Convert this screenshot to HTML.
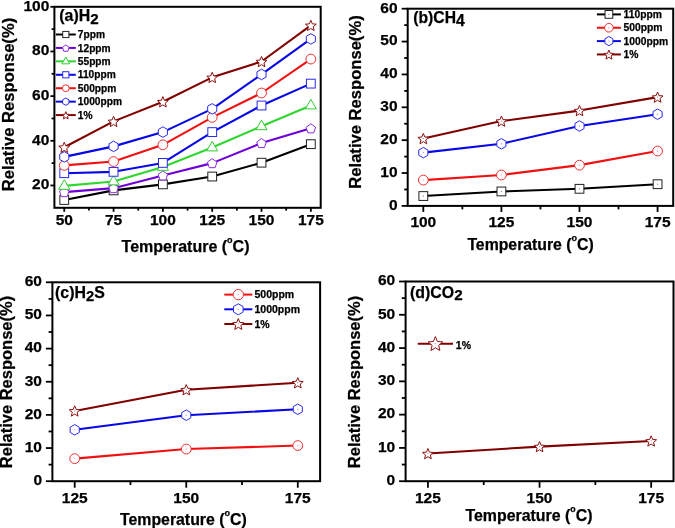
<!DOCTYPE html>
<html><head><meta charset="utf-8"><style>
html,body{margin:0;padding:0;background:#fff;}
svg{display:block;will-change:transform;}
text{font-family:"Liberation Sans", sans-serif;font-weight:bold;fill:#000;stroke:#000;stroke-width:0.25px;}
</style></head><body>
<svg width="675" height="528" viewBox="0 0 675 528">
<rect width="675" height="528" fill="#fff"/>
<line x1="64.26" y1="207.8" x2="64.26" y2="211.8" stroke="#000" stroke-width="1.8"/>
<text x="64.26" y="224.9" font-size="15.5" text-anchor="middle" >50</text>
<line x1="113.58" y1="207.8" x2="113.58" y2="211.8" stroke="#000" stroke-width="1.8"/>
<text x="113.58" y="224.9" font-size="15.5" text-anchor="middle" >75</text>
<line x1="162.89" y1="207.8" x2="162.89" y2="211.8" stroke="#000" stroke-width="1.8"/>
<text x="162.89" y="224.9" font-size="15.5" text-anchor="middle" >100</text>
<line x1="212.21" y1="207.8" x2="212.21" y2="211.8" stroke="#000" stroke-width="1.8"/>
<text x="212.21" y="224.9" font-size="15.5" text-anchor="middle" >125</text>
<line x1="261.52" y1="207.8" x2="261.52" y2="211.8" stroke="#000" stroke-width="1.8"/>
<text x="261.52" y="224.9" font-size="15.5" text-anchor="middle" >150</text>
<line x1="310.84" y1="207.8" x2="310.84" y2="211.8" stroke="#000" stroke-width="1.8"/>
<text x="310.84" y="224.9" font-size="15.5" text-anchor="middle" >175</text>
<line x1="88.92" y1="207.8" x2="88.92" y2="210.6" stroke="#000" stroke-width="1.8"/>
<line x1="138.24" y1="207.8" x2="138.24" y2="210.6" stroke="#000" stroke-width="1.8"/>
<line x1="187.55" y1="207.8" x2="187.55" y2="210.6" stroke="#000" stroke-width="1.8"/>
<line x1="236.86" y1="207.8" x2="236.86" y2="210.6" stroke="#000" stroke-width="1.8"/>
<line x1="286.18" y1="207.8" x2="286.18" y2="210.6" stroke="#000" stroke-width="1.8"/>
<line x1="50.4" y1="185.47" x2="54.4" y2="185.47" stroke="#000" stroke-width="1.8"/>
<text x="49.3" y="189.27" font-size="15.5" text-anchor="end" >20</text>
<line x1="50.4" y1="140.8" x2="54.4" y2="140.8" stroke="#000" stroke-width="1.8"/>
<text x="49.3" y="144.6" font-size="15.5" text-anchor="end" >40</text>
<line x1="50.4" y1="96.13" x2="54.4" y2="96.13" stroke="#000" stroke-width="1.8"/>
<text x="49.3" y="99.93" font-size="15.5" text-anchor="end" >60</text>
<line x1="50.4" y1="51.47" x2="54.4" y2="51.47" stroke="#000" stroke-width="1.8"/>
<text x="49.3" y="55.27" font-size="15.5" text-anchor="end" >80</text>
<line x1="50.4" y1="6.8" x2="54.4" y2="6.8" stroke="#000" stroke-width="1.8"/>
<text x="49.3" y="10.6" font-size="15.5" text-anchor="end" >100</text>
<line x1="51.6" y1="163.13" x2="54.4" y2="163.13" stroke="#000" stroke-width="1.8"/>
<line x1="51.6" y1="118.47" x2="54.4" y2="118.47" stroke="#000" stroke-width="1.8"/>
<line x1="51.6" y1="73.8" x2="54.4" y2="73.8" stroke="#000" stroke-width="1.8"/>
<line x1="51.6" y1="29.13" x2="54.4" y2="29.13" stroke="#000" stroke-width="1.8"/>
<polyline points="64.26,199.98 113.58,190.38 162.89,184.35 212.21,176.53 261.52,162.69 310.84,144.15" fill="none" stroke="#000000" stroke-width="2.1" stroke-linejoin="round"/>
<rect x="59.86" y="195.58" width="8.8" height="8.8" fill="#fff" stroke="#222222" stroke-width="1"/>
<rect x="109.18" y="185.98" width="8.8" height="8.8" fill="#fff" stroke="#222222" stroke-width="1"/>
<rect x="158.49" y="179.95" width="8.8" height="8.8" fill="#fff" stroke="#222222" stroke-width="1"/>
<rect x="207.81" y="172.13" width="8.8" height="8.8" fill="#fff" stroke="#222222" stroke-width="1"/>
<rect x="257.12" y="158.29" width="8.8" height="8.8" fill="#fff" stroke="#222222" stroke-width="1"/>
<rect x="306.44" y="139.75" width="8.8" height="8.8" fill="#fff" stroke="#222222" stroke-width="1"/>
<polyline points="64.26,192.17 113.58,188.15 162.89,175.42 212.21,163.13 261.52,143.03 310.84,128.29" fill="none" stroke="#6e00d8" stroke-width="2.1" stroke-linejoin="round"/>
<polygon points="64.26,187.67 69.02,191.12 67.2,196.71 61.32,196.71 59.51,191.12" fill="#fff" stroke="#8a2be2" stroke-width="1"/>
<polygon points="113.58,183.65 118.33,187.1 116.52,192.69 110.64,192.69 108.82,187.1" fill="#fff" stroke="#8a2be2" stroke-width="1"/>
<polygon points="162.89,170.92 167.65,174.37 165.83,179.96 159.95,179.96 158.14,174.37" fill="#fff" stroke="#8a2be2" stroke-width="1"/>
<polygon points="212.21,158.63 216.96,162.09 215.15,167.68 209.27,167.68 207.45,162.09" fill="#fff" stroke="#8a2be2" stroke-width="1"/>
<polygon points="261.52,138.53 266.28,141.99 264.46,147.58 258.58,147.58 256.77,141.99" fill="#fff" stroke="#8a2be2" stroke-width="1"/>
<polygon points="310.84,123.79 315.59,127.25 313.78,132.84 307.9,132.84 306.08,127.25" fill="#fff" stroke="#8a2be2" stroke-width="1"/>
<polyline points="64.26,185.91 113.58,181.45 162.89,166.93 212.21,147.5 261.52,126.28 310.84,105.51" fill="none" stroke="#2fd62f" stroke-width="2.1" stroke-linejoin="round"/>
<polygon points="64.26,179.71 69.81,189.31 58.72,189.31" fill="#fff" stroke="#30d030" stroke-width="1"/>
<polygon points="113.58,175.25 119.12,184.85 108.04,184.85" fill="#fff" stroke="#30d030" stroke-width="1"/>
<polygon points="162.89,160.73 168.44,170.33 157.35,170.33" fill="#fff" stroke="#30d030" stroke-width="1"/>
<polygon points="212.21,141.3 217.75,150.9 206.66,150.9" fill="#fff" stroke="#30d030" stroke-width="1"/>
<polygon points="261.52,120.08 267.06,129.68 255.98,129.68" fill="#fff" stroke="#30d030" stroke-width="1"/>
<polygon points="310.84,99.31 316.38,108.91 305.29,108.91" fill="#fff" stroke="#30d030" stroke-width="1"/>
<polyline points="64.26,173.18 113.58,171.84 162.89,162.91 212.21,132.09 261.52,105.51 310.84,83.63" fill="none" stroke="#0808e6" stroke-width="2.1" stroke-linejoin="round"/>
<rect x="59.86" y="168.78" width="8.8" height="8.8" fill="#fff" stroke="#2a2af0" stroke-width="1"/>
<rect x="109.18" y="167.44" width="8.8" height="8.8" fill="#fff" stroke="#2a2af0" stroke-width="1"/>
<rect x="158.49" y="158.51" width="8.8" height="8.8" fill="#fff" stroke="#2a2af0" stroke-width="1"/>
<rect x="207.81" y="127.69" width="8.8" height="8.8" fill="#fff" stroke="#2a2af0" stroke-width="1"/>
<rect x="257.12" y="101.11" width="8.8" height="8.8" fill="#fff" stroke="#2a2af0" stroke-width="1"/>
<rect x="306.44" y="79.23" width="8.8" height="8.8" fill="#fff" stroke="#2a2af0" stroke-width="1"/>
<polyline points="64.26,165.37 113.58,161.57 162.89,144.82 212.21,117.35 261.52,93.01 310.84,59.06" fill="none" stroke="#f01010" stroke-width="2.1" stroke-linejoin="round"/>
<circle cx="64.26" cy="165.37" r="4.9" fill="#fff" stroke="#f03030" stroke-width="1"/>
<circle cx="113.58" cy="161.57" r="4.9" fill="#fff" stroke="#f03030" stroke-width="1"/>
<circle cx="162.89" cy="144.82" r="4.9" fill="#fff" stroke="#f03030" stroke-width="1"/>
<circle cx="212.21" cy="117.35" r="4.9" fill="#fff" stroke="#f03030" stroke-width="1"/>
<circle cx="261.52" cy="93.01" r="4.9" fill="#fff" stroke="#f03030" stroke-width="1"/>
<circle cx="310.84" cy="59.06" r="4.9" fill="#fff" stroke="#f03030" stroke-width="1"/>
<polyline points="64.26,156.88 113.58,146.38 162.89,132.09 212.21,108.86 261.52,74.47 310.84,38.96" fill="none" stroke="#0808e6" stroke-width="2.1" stroke-linejoin="round"/>
<polygon points="64.26,151.63 68.81,154.26 68.81,159.51 64.26,162.13 59.72,159.51 59.72,154.26" fill="#fff" stroke="#2a2af0" stroke-width="1"/>
<polygon points="113.58,141.13 118.12,143.76 118.12,149.01 113.58,151.63 109.03,149.01 109.03,143.76" fill="#fff" stroke="#2a2af0" stroke-width="1"/>
<polygon points="162.89,126.84 167.44,129.47 167.44,134.72 162.89,137.34 158.35,134.72 158.35,129.47" fill="#fff" stroke="#2a2af0" stroke-width="1"/>
<polygon points="212.21,103.61 216.75,106.24 216.75,111.49 212.21,114.11 207.66,111.49 207.66,106.24" fill="#fff" stroke="#2a2af0" stroke-width="1"/>
<polygon points="261.52,69.22 266.07,71.84 266.07,77.09 261.52,79.72 256.98,77.09 256.98,71.84" fill="#fff" stroke="#2a2af0" stroke-width="1"/>
<polygon points="310.84,33.71 315.38,36.34 315.38,41.59 310.84,44.21 306.29,41.59 306.29,36.34" fill="#fff" stroke="#2a2af0" stroke-width="1"/>
<polyline points="64.26,147.28 113.58,121.37 162.89,101.72 212.21,77.37 261.52,61.52 310.84,25.34" fill="none" stroke="#800000" stroke-width="2.1" stroke-linejoin="round"/>
<polygon points="64.26,142.18 65.77,145.8 69.68,146.12 66.7,148.67 67.61,152.49 64.26,150.44 60.91,152.49 61.82,148.67 58.84,146.12 62.76,145.8" fill="#fff" stroke="#8b1010" stroke-width="1" stroke-linejoin="miter"/>
<polygon points="113.58,116.27 115.09,119.89 119,120.21 116.02,122.76 116.93,126.58 113.58,124.53 110.23,126.58 111.14,122.76 108.16,120.21 112.07,119.89" fill="#fff" stroke="#8b1010" stroke-width="1" stroke-linejoin="miter"/>
<polygon points="162.89,96.62 164.4,100.24 168.31,100.56 165.33,103.11 166.24,106.93 162.89,104.88 159.54,106.93 160.45,103.11 157.47,100.56 161.38,100.24" fill="#fff" stroke="#8b1010" stroke-width="1" stroke-linejoin="miter"/>
<polygon points="212.21,72.27 213.72,75.9 217.63,76.21 214.65,78.77 215.56,82.58 212.21,80.54 208.86,82.58 209.77,78.77 206.79,76.21 210.7,75.9" fill="#fff" stroke="#8b1010" stroke-width="1" stroke-linejoin="miter"/>
<polygon points="261.52,56.42 263.03,60.04 266.94,60.36 263.96,62.91 264.87,66.73 261.52,64.68 258.17,66.73 259.08,62.91 256.1,60.36 260.01,60.04" fill="#fff" stroke="#8b1010" stroke-width="1" stroke-linejoin="miter"/>
<polygon points="310.84,20.24 312.34,23.86 316.26,24.18 313.28,26.73 314.19,30.55 310.84,28.5 307.49,30.55 308.4,26.73 305.42,24.18 309.33,23.86" fill="#fff" stroke="#8b1010" stroke-width="1" stroke-linejoin="miter"/>
<rect x="54.4" y="6.8" width="266.3" height="201" fill="none" stroke="#000" stroke-width="2"/>
<line x1="55.8" y1="34.5" x2="75.8" y2="34.5" stroke="#000000" stroke-width="2"/>
<rect x="62.72" y="31.42" width="6.16" height="6.16" fill="#fff" stroke="#222222" stroke-width="1"/>
<text x="77.8" y="38.1" font-size="10.2" text-anchor="start" >7ppm</text>
<line x1="55.8" y1="47.93" x2="75.8" y2="47.93" stroke="#6e00d8" stroke-width="2"/>
<polygon points="65.8,44.93 69.13,47.35 67.86,51.26 63.74,51.26 62.47,47.35" fill="#fff" stroke="#8a2be2" stroke-width="1"/>
<text x="77.8" y="51.53" font-size="10.2" text-anchor="start" >12ppm</text>
<line x1="55.8" y1="61.36" x2="75.8" y2="61.36" stroke="#2fd62f" stroke-width="2"/>
<polygon points="65.8,57.08 69.68,63.8 61.92,63.8" fill="#fff" stroke="#30d030" stroke-width="1"/>
<text x="77.8" y="64.96" font-size="10.2" text-anchor="start" >55ppm</text>
<line x1="55.8" y1="74.79" x2="75.8" y2="74.79" stroke="#0808e6" stroke-width="2"/>
<rect x="62.72" y="71.71" width="6.16" height="6.16" fill="#fff" stroke="#2a2af0" stroke-width="1"/>
<text x="77.8" y="78.39" font-size="10.2" text-anchor="start" >110ppm</text>
<line x1="55.8" y1="88.22" x2="75.8" y2="88.22" stroke="#f01010" stroke-width="2"/>
<circle cx="65.8" cy="88.22" r="3.43" fill="#fff" stroke="#f03030" stroke-width="1"/>
<text x="77.8" y="91.82" font-size="10.2" text-anchor="start" >500ppm</text>
<line x1="55.8" y1="101.65" x2="75.8" y2="101.65" stroke="#0808e6" stroke-width="2"/>
<polygon points="65.8,97.98 68.98,99.81 68.98,103.49 65.8,105.33 62.62,103.49 62.62,99.81" fill="#fff" stroke="#2a2af0" stroke-width="1"/>
<text x="77.8" y="105.25" font-size="10.2" text-anchor="start" >1000ppm</text>
<line x1="55.8" y1="115.08" x2="75.8" y2="115.08" stroke="#800000" stroke-width="2"/>
<polygon points="65.8,111.69 66.86,114.23 69.59,114.45 67.51,116.23 68.15,118.91 65.8,117.48 63.45,118.91 64.09,116.23 62.01,114.45 64.74,114.23" fill="#fff" stroke="#8b1010" stroke-width="1" stroke-linejoin="miter"/>
<text x="77.8" y="118.68" font-size="10.2" text-anchor="start" >1%</text>
<text x="59.3" y="20.6" font-size="15.9">(a)H<tspan dy="3.3" font-size="15.2">2</tspan></text>
<text transform="translate(13.9,104.5) rotate(-90)" font-size="16.6" text-anchor="middle">Relative Response(%)</text>
<text x="121.6" y="252" font-size="16">Temperature (<tspan font-size="9" dy="-8.8">o</tspan><tspan dy="8.8">C)</tspan></text>
<line x1="423.32" y1="205.9" x2="423.32" y2="211.9" stroke="#000" stroke-width="1.8"/>
<text x="423.32" y="227.3" font-size="15.5" text-anchor="middle" >100</text>
<line x1="501.41" y1="205.9" x2="501.41" y2="211.9" stroke="#000" stroke-width="1.8"/>
<text x="501.41" y="227.3" font-size="15.5" text-anchor="middle" >125</text>
<line x1="579.49" y1="205.9" x2="579.49" y2="211.9" stroke="#000" stroke-width="1.8"/>
<text x="579.49" y="227.3" font-size="15.5" text-anchor="middle" >150</text>
<line x1="657.58" y1="205.9" x2="657.58" y2="211.9" stroke="#000" stroke-width="1.8"/>
<text x="657.58" y="227.3" font-size="15.5" text-anchor="middle" >175</text>
<line x1="462.36" y1="205.9" x2="462.36" y2="209.4" stroke="#000" stroke-width="1.8"/>
<line x1="540.45" y1="205.9" x2="540.45" y2="209.4" stroke="#000" stroke-width="1.8"/>
<line x1="618.54" y1="205.9" x2="618.54" y2="209.4" stroke="#000" stroke-width="1.8"/>
<line x1="401.7" y1="205.9" x2="407.7" y2="205.9" stroke="#000" stroke-width="1.8"/>
<text x="397.6" y="209.8" font-size="15.5" text-anchor="end" >0</text>
<line x1="401.7" y1="173.03" x2="407.7" y2="173.03" stroke="#000" stroke-width="1.8"/>
<text x="397.6" y="176.93" font-size="15.5" text-anchor="end" >10</text>
<line x1="401.7" y1="140.17" x2="407.7" y2="140.17" stroke="#000" stroke-width="1.8"/>
<text x="397.6" y="144.07" font-size="15.5" text-anchor="end" >20</text>
<line x1="401.7" y1="107.3" x2="407.7" y2="107.3" stroke="#000" stroke-width="1.8"/>
<text x="397.6" y="111.2" font-size="15.5" text-anchor="end" >30</text>
<line x1="401.7" y1="74.43" x2="407.7" y2="74.43" stroke="#000" stroke-width="1.8"/>
<text x="397.6" y="78.33" font-size="15.5" text-anchor="end" >40</text>
<line x1="401.7" y1="41.57" x2="407.7" y2="41.57" stroke="#000" stroke-width="1.8"/>
<text x="397.6" y="45.47" font-size="15.5" text-anchor="end" >50</text>
<line x1="401.7" y1="8.7" x2="407.7" y2="8.7" stroke="#000" stroke-width="1.8"/>
<text x="397.6" y="12.6" font-size="15.5" text-anchor="end" >60</text>
<line x1="404.2" y1="189.47" x2="407.7" y2="189.47" stroke="#000" stroke-width="1.8"/>
<line x1="404.2" y1="156.6" x2="407.7" y2="156.6" stroke="#000" stroke-width="1.8"/>
<line x1="404.2" y1="123.73" x2="407.7" y2="123.73" stroke="#000" stroke-width="1.8"/>
<line x1="404.2" y1="90.87" x2="407.7" y2="90.87" stroke="#000" stroke-width="1.8"/>
<line x1="404.2" y1="58" x2="407.7" y2="58" stroke="#000" stroke-width="1.8"/>
<line x1="404.2" y1="25.13" x2="407.7" y2="25.13" stroke="#000" stroke-width="1.8"/>
<polyline points="423.32,196.04 501.41,191.44 579.49,188.81 657.58,184.21" fill="none" stroke="#000000" stroke-width="2.1" stroke-linejoin="round"/>
<rect x="418.92" y="191.64" width="8.8" height="8.8" fill="#fff" stroke="#222222" stroke-width="1"/>
<rect x="422.82" y="195.54" width="1" height="1" fill="#222222" opacity="0.6"/>
<rect x="497.01" y="187.04" width="8.8" height="8.8" fill="#fff" stroke="#222222" stroke-width="1"/>
<rect x="500.91" y="190.94" width="1" height="1" fill="#222222" opacity="0.6"/>
<rect x="575.09" y="184.41" width="8.8" height="8.8" fill="#fff" stroke="#222222" stroke-width="1"/>
<rect x="578.99" y="188.31" width="1" height="1" fill="#222222" opacity="0.6"/>
<rect x="653.18" y="179.81" width="8.8" height="8.8" fill="#fff" stroke="#222222" stroke-width="1"/>
<rect x="657.08" y="183.71" width="1" height="1" fill="#222222" opacity="0.6"/>
<polyline points="423.32,180.1 501.41,175.01 579.49,165.15 657.58,151.01" fill="none" stroke="#f01010" stroke-width="2.1" stroke-linejoin="round"/>
<circle cx="423.32" cy="180.1" r="4.9" fill="#fff" stroke="#f03030" stroke-width="1"/>
<rect x="422.82" y="179.6" width="1" height="1" fill="#f03030" opacity="0.6"/>
<circle cx="501.41" cy="175.01" r="4.9" fill="#fff" stroke="#f03030" stroke-width="1"/>
<rect x="500.91" y="174.51" width="1" height="1" fill="#f03030" opacity="0.6"/>
<circle cx="579.49" cy="165.15" r="4.9" fill="#fff" stroke="#f03030" stroke-width="1"/>
<rect x="578.99" y="164.65" width="1" height="1" fill="#f03030" opacity="0.6"/>
<circle cx="657.58" cy="151.01" r="4.9" fill="#fff" stroke="#f03030" stroke-width="1"/>
<rect x="657.08" y="150.51" width="1" height="1" fill="#f03030" opacity="0.6"/>
<polyline points="423.32,152.66 501.41,143.78 579.49,126.03 657.58,114.2" fill="none" stroke="#0808e6" stroke-width="2.1" stroke-linejoin="round"/>
<polygon points="423.32,147.41 427.86,150.03 427.86,155.28 423.32,157.91 418.77,155.28 418.77,150.03" fill="#fff" stroke="#2a2af0" stroke-width="1"/>
<rect x="422.82" y="152.16" width="1" height="1" fill="#2a2af0" opacity="0.6"/>
<polygon points="501.41,138.53 505.95,141.16 505.95,146.41 501.41,149.03 496.86,146.41 496.86,141.16" fill="#fff" stroke="#2a2af0" stroke-width="1"/>
<rect x="500.91" y="143.28" width="1" height="1" fill="#2a2af0" opacity="0.6"/>
<polygon points="579.49,120.78 584.04,123.41 584.04,128.66 579.49,131.28 574.95,128.66 574.95,123.41" fill="#fff" stroke="#2a2af0" stroke-width="1"/>
<rect x="578.99" y="125.53" width="1" height="1" fill="#2a2af0" opacity="0.6"/>
<polygon points="657.58,108.95 662.13,111.58 662.13,116.83 657.58,119.45 653.04,116.83 653.04,111.58" fill="#fff" stroke="#2a2af0" stroke-width="1"/>
<rect x="657.08" y="113.7" width="1" height="1" fill="#2a2af0" opacity="0.6"/>
<polyline points="423.32,138.52 501.41,121.1 579.49,110.59 657.58,97.11" fill="none" stroke="#800000" stroke-width="2.1" stroke-linejoin="round"/>
<polygon points="423.32,133.42 424.83,137.05 428.74,137.36 425.76,139.92 426.67,143.73 423.32,141.69 419.97,143.73 420.88,139.92 417.9,137.36 421.81,137.05" fill="#fff" stroke="#8b1010" stroke-width="1" stroke-linejoin="miter"/>
<rect x="422.82" y="138.02" width="1" height="1" fill="#8b1010" opacity="0.6"/>
<polygon points="501.41,116 502.91,119.63 506.83,119.94 503.85,122.5 504.76,126.32 501.41,124.27 498.06,126.32 498.97,122.5 495.98,119.94 499.9,119.63" fill="#fff" stroke="#8b1010" stroke-width="1" stroke-linejoin="miter"/>
<rect x="500.91" y="120.6" width="1" height="1" fill="#8b1010" opacity="0.6"/>
<polygon points="579.49,105.49 581,109.11 584.92,109.43 581.93,111.98 582.84,115.8 579.49,113.75 576.14,115.8 577.05,111.98 574.07,109.43 577.99,109.11" fill="#fff" stroke="#8b1010" stroke-width="1" stroke-linejoin="miter"/>
<rect x="578.99" y="110.09" width="1" height="1" fill="#8b1010" opacity="0.6"/>
<polygon points="657.58,92.01 659.09,95.64 663,95.95 660.02,98.5 660.93,102.32 657.58,100.28 654.23,102.32 655.14,98.5 652.16,95.95 656.07,95.64" fill="#fff" stroke="#8b1010" stroke-width="1" stroke-linejoin="miter"/>
<rect x="657.08" y="96.61" width="1" height="1" fill="#8b1010" opacity="0.6"/>
<rect x="407.7" y="8.7" width="265.5" height="197.2" fill="none" stroke="#000" stroke-width="2"/>
<line x1="596.9" y1="14.4" x2="620.9" y2="14.4" stroke="#000000" stroke-width="2"/>
<rect x="605.03" y="10.53" width="7.74" height="7.74" fill="#fff" stroke="#222222" stroke-width="1"/>
<rect x="608.4" y="13.9" width="1" height="1" fill="#222222" opacity="0.6"/>
<text x="623.6" y="18.1" font-size="10.3" text-anchor="start" >110ppm</text>
<line x1="596.9" y1="27.75" x2="620.9" y2="27.75" stroke="#f01010" stroke-width="2"/>
<circle cx="608.9" cy="27.75" r="4.31" fill="#fff" stroke="#f03030" stroke-width="1"/>
<rect x="608.4" y="27.25" width="1" height="1" fill="#f03030" opacity="0.6"/>
<text x="623.6" y="31.45" font-size="10.3" text-anchor="start" >500ppm</text>
<line x1="596.9" y1="41.1" x2="620.9" y2="41.1" stroke="#0808e6" stroke-width="2"/>
<polygon points="608.9,36.48 612.9,38.79 612.9,43.41 608.9,45.72 604.9,43.41 604.9,38.79" fill="#fff" stroke="#2a2af0" stroke-width="1"/>
<rect x="608.4" y="40.6" width="1" height="1" fill="#2a2af0" opacity="0.6"/>
<text x="623.6" y="44.8" font-size="10.3" text-anchor="start" >1000ppm</text>
<line x1="596.9" y1="54.45" x2="620.9" y2="54.45" stroke="#800000" stroke-width="2"/>
<polygon points="608.9,50.03 610.23,53.22 613.67,53.5 611.05,55.75 611.85,59.11 608.9,57.31 605.95,59.11 606.75,55.75 604.13,53.5 607.57,53.22" fill="#fff" stroke="#8b1010" stroke-width="1" stroke-linejoin="miter"/>
<rect x="608.4" y="53.95" width="1" height="1" fill="#8b1010" opacity="0.6"/>
<text x="623.6" y="58.15" font-size="10.3" text-anchor="start" >1%</text>
<text x="413.3" y="23.4" font-size="15.7">(b)CH<tspan dy="3">4</tspan></text>
<text transform="translate(361,102) rotate(-90)" font-size="16.6" text-anchor="middle">Relative Response(%)</text>
<text x="467.4" y="249.8" font-size="15.8">Temperature (<tspan font-size="9" dy="-8.8">o</tspan><tspan dy="8.8">C)</tspan></text>
<line x1="74.71" y1="481.2" x2="74.71" y2="487.7" stroke="#000" stroke-width="1.8"/>
<text x="74.71" y="503.3" font-size="15.5" text-anchor="middle" >125</text>
<line x1="186.25" y1="481.2" x2="186.25" y2="487.7" stroke="#000" stroke-width="1.8"/>
<text x="186.25" y="503.3" font-size="15.5" text-anchor="middle" >150</text>
<line x1="297.79" y1="481.2" x2="297.79" y2="487.7" stroke="#000" stroke-width="1.8"/>
<text x="297.79" y="503.3" font-size="15.5" text-anchor="middle" >175</text>
<line x1="130.48" y1="481.2" x2="130.48" y2="485" stroke="#000" stroke-width="1.8"/>
<line x1="242.02" y1="481.2" x2="242.02" y2="485" stroke="#000" stroke-width="1.8"/>
<line x1="45.9" y1="481.2" x2="52.4" y2="481.2" stroke="#000" stroke-width="1.8"/>
<text x="42" y="485" font-size="15.5" text-anchor="end" >0</text>
<line x1="45.9" y1="448.05" x2="52.4" y2="448.05" stroke="#000" stroke-width="1.8"/>
<text x="42" y="451.85" font-size="15.5" text-anchor="end" >10</text>
<line x1="45.9" y1="414.9" x2="52.4" y2="414.9" stroke="#000" stroke-width="1.8"/>
<text x="42" y="418.7" font-size="15.5" text-anchor="end" >20</text>
<line x1="45.9" y1="381.75" x2="52.4" y2="381.75" stroke="#000" stroke-width="1.8"/>
<text x="42" y="385.55" font-size="15.5" text-anchor="end" >30</text>
<line x1="45.9" y1="348.6" x2="52.4" y2="348.6" stroke="#000" stroke-width="1.8"/>
<text x="42" y="352.4" font-size="15.5" text-anchor="end" >40</text>
<line x1="45.9" y1="315.45" x2="52.4" y2="315.45" stroke="#000" stroke-width="1.8"/>
<text x="42" y="319.25" font-size="15.5" text-anchor="end" >50</text>
<line x1="45.9" y1="282.3" x2="52.4" y2="282.3" stroke="#000" stroke-width="1.8"/>
<text x="42" y="286.1" font-size="15.5" text-anchor="end" >60</text>
<line x1="48.6" y1="464.62" x2="52.4" y2="464.62" stroke="#000" stroke-width="1.8"/>
<line x1="48.6" y1="431.48" x2="52.4" y2="431.48" stroke="#000" stroke-width="1.8"/>
<line x1="48.6" y1="398.32" x2="52.4" y2="398.32" stroke="#000" stroke-width="1.8"/>
<line x1="48.6" y1="365.18" x2="52.4" y2="365.18" stroke="#000" stroke-width="1.8"/>
<line x1="48.6" y1="332.02" x2="52.4" y2="332.02" stroke="#000" stroke-width="1.8"/>
<line x1="48.6" y1="298.88" x2="52.4" y2="298.88" stroke="#000" stroke-width="1.8"/>
<polyline points="74.71,458.66 186.25,449.04 297.79,445.56" fill="none" stroke="#f01010" stroke-width="2.1" stroke-linejoin="round"/>
<circle cx="74.71" cy="458.66" r="4.9" fill="#fff" stroke="#f03030" stroke-width="1"/>
<rect x="74.21" y="458.16" width="1" height="1" fill="#f03030" opacity="0.6"/>
<circle cx="186.25" cy="449.04" r="4.9" fill="#fff" stroke="#f03030" stroke-width="1"/>
<rect x="185.75" y="448.54" width="1" height="1" fill="#f03030" opacity="0.6"/>
<circle cx="297.79" cy="445.56" r="4.9" fill="#fff" stroke="#f03030" stroke-width="1"/>
<rect x="297.29" y="445.06" width="1" height="1" fill="#f03030" opacity="0.6"/>
<polyline points="74.71,429.82 186.25,415.23 297.79,409.26" fill="none" stroke="#0808e6" stroke-width="2.1" stroke-linejoin="round"/>
<polygon points="74.71,424.57 79.25,427.19 79.25,432.44 74.71,435.07 70.16,432.44 70.16,427.19" fill="#fff" stroke="#2a2af0" stroke-width="1"/>
<rect x="74.21" y="429.32" width="1" height="1" fill="#2a2af0" opacity="0.6"/>
<polygon points="186.25,409.98 190.8,412.61 190.8,417.86 186.25,420.48 181.7,417.86 181.7,412.61" fill="#fff" stroke="#2a2af0" stroke-width="1"/>
<rect x="185.75" y="414.73" width="1" height="1" fill="#2a2af0" opacity="0.6"/>
<polygon points="297.79,404.01 302.34,406.64 302.34,411.89 297.79,414.51 293.25,411.89 293.25,406.64" fill="#fff" stroke="#2a2af0" stroke-width="1"/>
<rect x="297.29" y="408.76" width="1" height="1" fill="#2a2af0" opacity="0.6"/>
<polyline points="74.71,410.92 186.25,389.71 297.79,382.74" fill="none" stroke="#800000" stroke-width="2.1" stroke-linejoin="round"/>
<polygon points="74.71,405.82 76.22,409.45 80.13,409.76 77.15,412.31 78.06,416.13 74.71,414.09 71.36,416.13 72.27,412.31 69.29,409.76 73.2,409.45" fill="#fff" stroke="#8b1010" stroke-width="1" stroke-linejoin="miter"/>
<rect x="74.21" y="410.42" width="1" height="1" fill="#8b1010" opacity="0.6"/>
<polygon points="186.25,384.61 187.76,388.23 191.67,388.54 188.69,391.1 189.6,394.92 186.25,392.87 182.9,394.92 183.81,391.1 180.83,388.54 184.74,388.23" fill="#fff" stroke="#8b1010" stroke-width="1" stroke-linejoin="miter"/>
<rect x="185.75" y="389.21" width="1" height="1" fill="#8b1010" opacity="0.6"/>
<polygon points="297.79,377.64 299.3,381.27 303.21,381.58 300.23,384.14 301.14,387.96 297.79,385.91 294.44,387.96 295.35,384.14 292.37,381.58 296.28,381.27" fill="#fff" stroke="#8b1010" stroke-width="1" stroke-linejoin="miter"/>
<rect x="297.29" y="382.24" width="1" height="1" fill="#8b1010" opacity="0.6"/>
<rect x="52.4" y="282.3" width="267.7" height="198.9" fill="none" stroke="#000" stroke-width="2"/>
<line x1="224.3" y1="294.6" x2="252.3" y2="294.6" stroke="#f01010" stroke-width="2"/>
<circle cx="238.3" cy="294.6" r="5.14" fill="#fff" stroke="#f03030" stroke-width="1"/>
<rect x="237.8" y="294.1" width="1" height="1" fill="#f03030" opacity="0.6"/>
<text x="254.5" y="298.3" font-size="10.5" text-anchor="start" >500ppm</text>
<line x1="224.3" y1="309.3" x2="252.3" y2="309.3" stroke="#0808e6" stroke-width="2"/>
<polygon points="238.3,303.79 243.07,306.54 243.07,312.06 238.3,314.81 233.53,312.06 233.53,306.54" fill="#fff" stroke="#2a2af0" stroke-width="1"/>
<rect x="237.8" y="308.8" width="1" height="1" fill="#2a2af0" opacity="0.6"/>
<text x="254.5" y="313" font-size="10.5" text-anchor="start" >1000ppm</text>
<line x1="224.3" y1="324" x2="252.3" y2="324" stroke="#800000" stroke-width="2"/>
<polygon points="238.3,318.62 239.88,322.42 243.99,322.75 240.86,325.43 241.82,329.44 238.3,327.29 234.78,329.44 235.74,325.43 232.61,322.75 236.72,322.42" fill="#fff" stroke="#8b1010" stroke-width="1" stroke-linejoin="miter"/>
<rect x="237.8" y="323.5" width="1" height="1" fill="#8b1010" opacity="0.6"/>
<text x="254.5" y="327.7" font-size="10.5" text-anchor="start" >1%</text>
<text x="55" y="298.4" font-size="15.9">(c)H<tspan dy="3" font-size="14.8">2</tspan><tspan dy="-3">S</tspan></text>
<text transform="translate(12,382) rotate(-90)" font-size="16.5" text-anchor="middle">Relative Response(%)</text>
<text x="120" y="524.8" font-size="15.85">Temperature (<tspan font-size="9" dy="-8.6">o</tspan><tspan dy="8.6">C)</tspan></text>
<line x1="427.93" y1="481.2" x2="427.93" y2="487.7" stroke="#000" stroke-width="1.8"/>
<text x="427.93" y="503.4" font-size="15.5" text-anchor="middle" >125</text>
<line x1="539.55" y1="481.2" x2="539.55" y2="487.7" stroke="#000" stroke-width="1.8"/>
<text x="539.55" y="503.4" font-size="15.5" text-anchor="middle" >150</text>
<line x1="651.17" y1="481.2" x2="651.17" y2="487.7" stroke="#000" stroke-width="1.8"/>
<text x="651.17" y="503.4" font-size="15.5" text-anchor="middle" >175</text>
<line x1="483.74" y1="481.2" x2="483.74" y2="485" stroke="#000" stroke-width="1.8"/>
<line x1="595.36" y1="481.2" x2="595.36" y2="485" stroke="#000" stroke-width="1.8"/>
<line x1="399.1" y1="481.2" x2="405.6" y2="481.2" stroke="#000" stroke-width="1.8"/>
<text x="395.2" y="485" font-size="15.5" text-anchor="end" >0</text>
<line x1="399.1" y1="447.92" x2="405.6" y2="447.92" stroke="#000" stroke-width="1.8"/>
<text x="395.2" y="451.72" font-size="15.5" text-anchor="end" >10</text>
<line x1="399.1" y1="414.63" x2="405.6" y2="414.63" stroke="#000" stroke-width="1.8"/>
<text x="395.2" y="418.43" font-size="15.5" text-anchor="end" >20</text>
<line x1="399.1" y1="381.35" x2="405.6" y2="381.35" stroke="#000" stroke-width="1.8"/>
<text x="395.2" y="385.15" font-size="15.5" text-anchor="end" >30</text>
<line x1="399.1" y1="348.07" x2="405.6" y2="348.07" stroke="#000" stroke-width="1.8"/>
<text x="395.2" y="351.87" font-size="15.5" text-anchor="end" >40</text>
<line x1="399.1" y1="314.78" x2="405.6" y2="314.78" stroke="#000" stroke-width="1.8"/>
<text x="395.2" y="318.58" font-size="15.5" text-anchor="end" >50</text>
<line x1="399.1" y1="281.5" x2="405.6" y2="281.5" stroke="#000" stroke-width="1.8"/>
<text x="395.2" y="285.3" font-size="15.5" text-anchor="end" >60</text>
<line x1="401.8" y1="464.56" x2="405.6" y2="464.56" stroke="#000" stroke-width="1.8"/>
<line x1="401.8" y1="431.27" x2="405.6" y2="431.27" stroke="#000" stroke-width="1.8"/>
<line x1="401.8" y1="397.99" x2="405.6" y2="397.99" stroke="#000" stroke-width="1.8"/>
<line x1="401.8" y1="364.71" x2="405.6" y2="364.71" stroke="#000" stroke-width="1.8"/>
<line x1="401.8" y1="331.43" x2="405.6" y2="331.43" stroke="#000" stroke-width="1.8"/>
<line x1="401.8" y1="298.14" x2="405.6" y2="298.14" stroke="#000" stroke-width="1.8"/>
<polyline points="427.93,453.57 539.55,446.59 651.17,440.93" fill="none" stroke="#800000" stroke-width="2.1" stroke-linejoin="round"/>
<polygon points="427.93,448.47 429.43,452.1 433.35,452.41 430.36,454.97 431.28,458.79 427.93,456.74 424.57,458.79 425.49,454.97 422.5,452.41 426.42,452.1" fill="#fff" stroke="#8b1010" stroke-width="1" stroke-linejoin="miter"/>
<rect x="427.43" y="453.07" width="1" height="1" fill="#8b1010" opacity="0.6"/>
<polygon points="539.55,441.49 541.06,445.11 544.97,445.42 541.99,447.98 542.9,451.8 539.55,449.75 536.2,451.8 537.11,447.98 534.13,445.42 538.04,445.11" fill="#fff" stroke="#8b1010" stroke-width="1" stroke-linejoin="miter"/>
<rect x="539.05" y="446.09" width="1" height="1" fill="#8b1010" opacity="0.6"/>
<polygon points="651.17,435.83 652.68,439.45 656.6,439.77 653.61,442.32 654.53,446.14 651.17,444.09 647.82,446.14 648.74,442.32 645.75,439.77 649.67,439.45" fill="#fff" stroke="#8b1010" stroke-width="1" stroke-linejoin="miter"/>
<rect x="650.67" y="440.43" width="1" height="1" fill="#8b1010" opacity="0.6"/>
<rect x="405.6" y="281.5" width="267.9" height="199.7" fill="none" stroke="#000" stroke-width="2"/>
<line x1="417.8" y1="343.7" x2="453" y2="343.7" stroke="#800000" stroke-width="2"/>
<polygon points="435.4,336.61 437.44,341.5 442.72,341.92 438.69,345.37 439.92,350.53 435.4,347.76 430.88,350.53 432.11,345.37 428.08,341.92 433.36,341.5" fill="#fff" stroke="#8b1010" stroke-width="1" stroke-linejoin="miter"/>
<rect x="434.9" y="343.2" width="1" height="1" fill="#8b1010" opacity="0.6"/>
<text x="455.8" y="349" font-size="10.5" text-anchor="start" >1%</text>
<text x="410" y="297.5" font-size="15.9">(d)CO<tspan dy="2.6" font-size="15.2">2</tspan></text>
<text transform="translate(360.3,382) rotate(-90)" font-size="16.5" text-anchor="middle">Relative Response(%)</text>
<text x="465.5" y="520.8" font-size="15.9">Temperature (<tspan font-size="8.8" dy="-8.4">o</tspan><tspan dy="8.4">C)</tspan></text>
</svg>
</body></html>
